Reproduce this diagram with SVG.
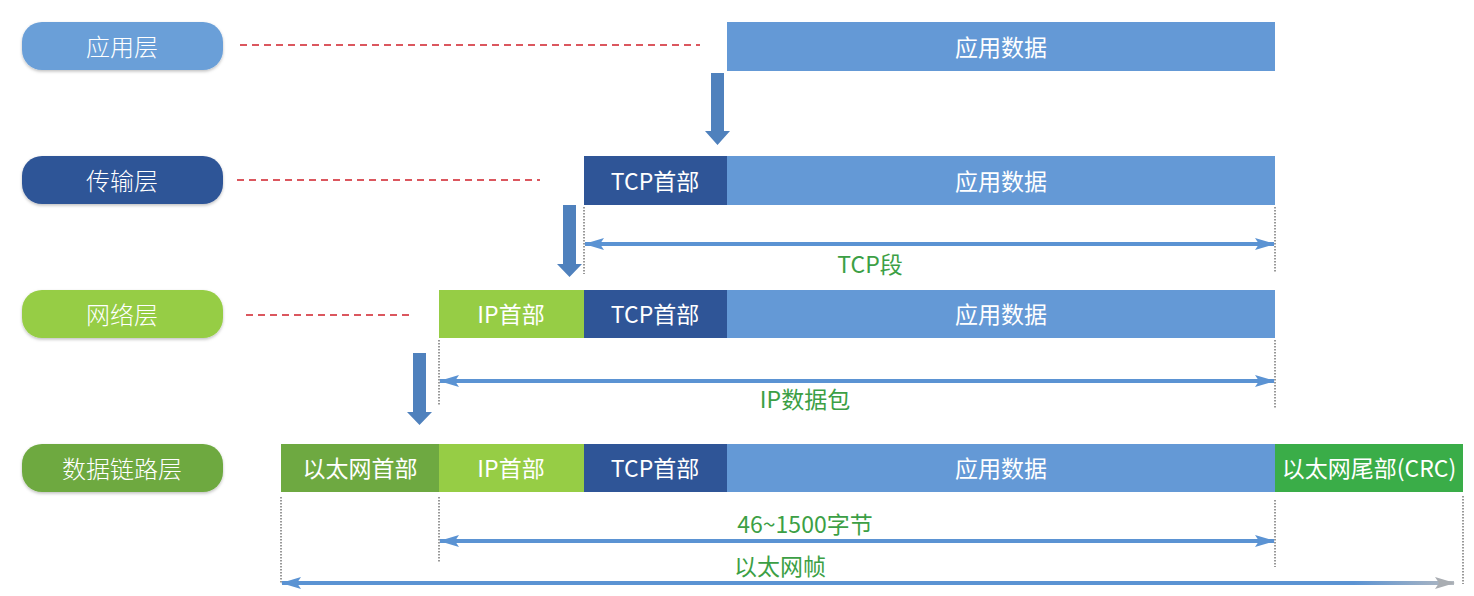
<svg xmlns="http://www.w3.org/2000/svg" width="1474" height="596" viewBox="0 0 1474 596">
<defs>
<style>
.lbl{font-family:"Noto Sans CJK SC","Microsoft YaHei",sans-serif;font-size:24px;fill:#ffffff;text-anchor:middle;dominant-baseline:central;font-weight:300}
.box{font-family:"Noto Sans CJK SC","Microsoft YaHei",sans-serif;font-size:23px;fill:#ffffff;text-anchor:middle;dominant-baseline:central}
.grn{font-family:"Noto Sans CJK SC","Microsoft YaHei",sans-serif;font-size:23px;fill:#3c9f45;text-anchor:middle;dominant-baseline:central}
.red{stroke:#d0202a;stroke-width:1.5;stroke-dasharray:7,5;fill:none}
.dot{stroke:#333;stroke-width:1;stroke-dasharray:1.5,1.5;fill:none}
.dim{stroke:#5b93d3;stroke-width:4;fill:none}
.down{fill:#4f81bd}
.app{fill:#6499d6}.tcp{fill:#2f5597}.ip{fill:#96cd45}.eth{fill:#6ea941}.crc{fill:#3aad48}
</style>
<marker id="ah" viewBox="0 0 20 12" refX="19" refY="6" markerWidth="20" markerHeight="12" markerUnits="userSpaceOnUse" orient="auto-start-reverse">
<path d="M0,0 L20,6 L0,12 L4,6 Z" fill="#5b93d3"/>
</marker>
<marker id="ahg" viewBox="0 0 20 12" refX="19" refY="6" markerWidth="20" markerHeight="12" markerUnits="userSpaceOnUse" orient="auto-start-reverse">
<path d="M0,0 L20,6 L0,12 L4,6 Z" fill="#a9adb2"/>
</marker>
<linearGradient id="fade" x1="281" y1="0" x2="1460" y2="0" gradientUnits="userSpaceOnUse">
<stop offset="0" stop-color="#5b93d3"/>
<stop offset="0.91" stop-color="#5b93d3"/>
<stop offset="1" stop-color="#b8bbbf"/>
</linearGradient>
<filter id="sh" x="-10%" y="-20%" width="120%" height="150%">
<feDropShadow dx="0" dy="1.5" stdDeviation="1.5" flood-color="#000" flood-opacity="0.25"/>
</filter>
</defs>
<rect width="1474" height="596" fill="#ffffff"/>

<g id="layer-app"><rect x="22" y="22" width="201" height="48" rx="20" fill="#6a9fd8" filter="url(#sh)"/><text class="lbl" x="122" y="45">应用层</text></g>
<g id="layer-transport"><rect x="22" y="156" width="201" height="48" rx="20" fill="#2f5597" filter="url(#sh)"/><text class="lbl" x="122" y="179">传输层</text></g>
<g id="layer-network"><rect x="22" y="290" width="201" height="48" rx="20" fill="#96cd45" filter="url(#sh)"/><text class="lbl" x="122" y="313">网络层</text></g>
<g id="layer-link"><rect x="22" y="444" width="201" height="48" rx="20" fill="#6ea941" filter="url(#sh)"/><text class="lbl" x="122" y="467">数据链路层</text></g>

<g id="row1">
<g id="r1-app"><rect class="app" x="727" y="22" width="548" height="49"/><text class="box" x="1001" y="46">应用数据</text></g>
</g>
<g id="row2">
<g id="r2-tcp"><rect class="tcp" x="584" y="156" width="143" height="49"/><text class="box" x="655" y="180">TCP首部</text></g>
<g id="r2-app"><rect class="app" x="727" y="156" width="548" height="49"/><text class="box" x="1001" y="180">应用数据</text></g>
</g>
<g id="row3">
<g id="r3-ip"><rect class="ip" x="439" y="290" width="145" height="48"/><text class="box" x="511" y="313">IP首部</text></g>
<g id="r3-tcp"><rect class="tcp" x="584" y="290" width="143" height="48"/><text class="box" x="655" y="313">TCP首部</text></g>
<g id="r3-app"><rect class="app" x="727" y="290" width="548" height="48"/><text class="box" x="1001" y="313">应用数据</text></g>
</g>
<g id="row4">
<g id="r4-eth"><rect class="eth" x="281" y="444" width="158" height="48"/><text class="box" x="360" y="467">以太网首部</text></g>
<g id="r4-ip"><rect class="ip" x="439" y="444" width="145" height="48"/><text class="box" x="511" y="467">IP首部</text></g>
<g id="r4-tcp"><rect class="tcp" x="584" y="444" width="143" height="48"/><text class="box" x="655" y="467">TCP首部</text></g>
<g id="r4-app"><rect class="app" x="727" y="444" width="548" height="48"/><text class="box" x="1001" y="467">应用数据</text></g>
<g id="r4-crc"><rect class="crc" x="1275" y="444" width="188" height="48"/><text class="box" x="1369" y="467">以太网尾部(CRC)</text></g>
</g>

<g id="connectors">
<line class="red" x1="240" y1="45" x2="700" y2="45"/>
<line class="red" x1="237" y1="180" x2="540" y2="180"/>
<line class="red" x1="246" y1="315" x2="412" y2="315"/>

<path class="down" d="M711,73 H724 V131 H730 L717.5,145 L705,131 H711 Z"/>
<path class="down" d="M563,205 H576 V264 H582 L569.5,277 L557,264 H563 Z"/>
<path class="down" d="M413,353 H426 V412 H432 L419.5,425 L407,412 H413 Z"/>

<line class="dot" x1="584" y1="207" x2="584" y2="274"/>
<line class="dot" x1="1275" y1="207" x2="1275" y2="272"/>
<line class="dot" x1="439" y1="340" x2="439" y2="405"/>
<line class="dot" x1="1275" y1="340" x2="1275" y2="408"/>
<line class="dot" x1="281" y1="497" x2="281" y2="584"/>
<line class="dot" x1="439" y1="497" x2="439" y2="563"/>
<line class="dot" x1="1275" y1="500" x2="1275" y2="567"/>
<line class="dot" x1="1463" y1="496" x2="1463" y2="584"/>

<line class="dim" x1="585" y1="244" x2="1274" y2="244" marker-start="url(#ah)" marker-end="url(#ah)"/>
<line class="dim" x1="440" y1="381" x2="1274" y2="381" marker-start="url(#ah)" marker-end="url(#ah)"/>
<line class="dim" x1="440" y1="541" x2="1274" y2="541" marker-start="url(#ah)" marker-end="url(#ah)"/>
<line x1="282" y1="583" x2="1454" y2="583" stroke="url(#fade)" stroke-width="4" marker-start="url(#ah)" marker-end="url(#ahg)"/>
</g>

<g id="labels">
<text class="grn" x="870" y="263">TCP段</text>
<text class="grn" x="805" y="398">IP数据包</text>
<text class="grn" x="805" y="523">46~1500字节</text>
<text class="grn" x="780" y="565">以太网帧</text>
</g>
</svg>
